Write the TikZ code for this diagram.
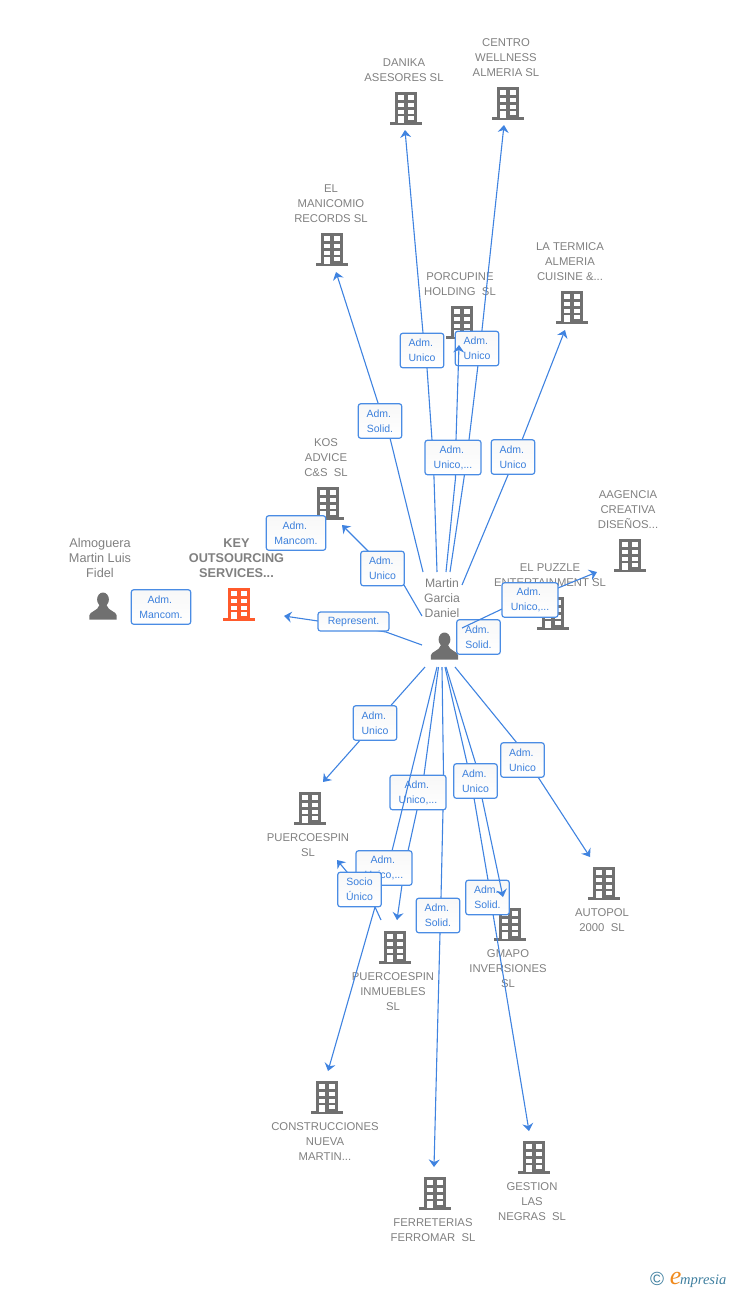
\documentclass[tikz,border=0pt]{standalone}
\usepackage{fontspec}
\setmainfont{Liberation Sans}
\newfontfamily\logofont{Liberation Serif}
\usetikzlibrary{arrows.meta}
\definecolor{linkblue}{HTML}{3F83E0}
\definecolor{boxblue}{HTML}{4A8CE4}
\definecolor{labblue}{HTML}{3C80DC}
\definecolor{txtgray}{HTML}{808080}
\definecolor{icongray}{HTML}{707070}
\definecolor{keyred}{HTML}{FF5A2B}
\definecolor{logoteal}{HTML}{3F7F9F}
\definecolor{logoorange}{HTML}{F08A1D}
\newcommand{\admx}{Adm.\hphantom{i}}
\tikzset{
  x=1pt,y=-1pt,
  link/.style={draw=linkblue,line width=1.1pt,line join=round},
  arrowlink/.style={link,-{Stealth[length=7.5pt,width=11pt,inset=2.5pt]}},
  lab/.style={draw=boxblue,line width=1.2pt,rounded corners=2.5pt,top color=white!97!black,bottom color=white,
    text=labblue,font=\fontsize{10.5}{15}\selectfont,align=center,inner sep=0pt,minimum height=34.5pt},
  labS/.style={lab,minimum width=43.5pt},
  labM/.style={lab,minimum width=56pt},
  labL/.style={lab,minimum width=59.5pt},
  name text/.style={text=txtgray,font=\fontsize{11.3}{15}\selectfont,align=center,inner sep=0pt},
  person text/.style={text=txtgray,font=\fontsize{12.7}{15}\selectfont,align=center,inner sep=0pt},
  martin text/.style={text=txtgray,font=\fontsize{12.2}{15}\selectfont,align=center,inner sep=0pt},
  key text/.style={text=txtgray,font=\fontsize{12.7}{15}\selectfont\bfseries,align=center,inner sep=0pt},
  iconbox/.style={inner sep=0pt,minimum width=32pt,minimum height=33pt},
  bldg/.pic={
    \path[pic actions,draw=none] (-11,-16.5) rectangle (11,14.5);
    \path[pic actions,draw=none] (-16,14.2) rectangle (16,16.8);
    \foreach \yy/\hh in {-13.2/4.7,-5.2/4.4,1.8/4,7.5/7}{\fill[white] (-7.7,\yy) rectangle (-1.7,\yy+\hh);}
    \foreach \yy/\hh in {-13.2/4.7,-5.2/4.4,1.8/4,7.5/4.2}{\fill[white] (2,\yy) rectangle (8,\yy+\hh);}
  },
  person/.pic={
    \path[pic actions,draw=none] (0,-6.5) ellipse [x radius=5.9,y radius=7];
    \path[pic actions,draw=none] (-13.7,13.5) -- (-13.7,9.5) .. controls (-13.7,5.5) and (-5,5) .. (-3.5,-1) -- (3.5,-1) .. controls (5,5) and (13.7,5.5) .. (13.7,9.5) -- (13.7,13.5) -- cycle;
  }
}
\begin{document}
\begin{tikzpicture}
\useasboundingbox (0,0) rectangle (728,1290);

% icons
\foreach \nm/\px/\py in {danika/406/108,centro/508/103,manicomio/332/249,porcupine/462/322,termica/572/307,kos/328/503,aagencia/630/555,puzzle/552.5/613,puercoespin/310/808,autopol/604/883,inmuebles/395/947,gmapo/510/924,construcciones/327/1097,ferreterias/435/1193,gestion/534/1157}{
  \node[iconbox] (\nm) at (\px,\py) {};
  \pic[fill=icongray] at (\nm) {bldg};
}
\node[iconbox] (key) at (238.5,604) {};
\pic[fill=keyred] at (key) {bldg};
\node[iconbox,minimum width=28pt,minimum height=27pt] (almoguera) at (103,606) {};
\pic[fill=icongray] at (almoguera) {person};
\node[iconbox,minimum width=28pt,minimum height=27pt] (martin) at (444.5,646) {};
\pic[fill=icongray] at (martin) {person};

% names
\node[name text] (t1) at (404,70.5) {DANIKA\\ASESORES SL};
\node[name text] (t2) at (506,58) {CENTRO\\WELLNESS\\ALMERIA SL};
\node[name text] (t3) at (331,204) {EL\\MANICOMIO\\RECORDS SL};
\node[name text] (t4) at (460,284.5) {PORCUPINE\\HOLDING\ \ SL};
\node[name text] (t5) at (570,262) {LA TERMICA\\ALMERIA\\CUISINE \&...};
\node[name text] (t6) at (326,458) {KOS\\ADVICE\\C\&S\ \ SL};
\node[name text] (t7) at (628,510) {AAGENCIA\\CREATIVA\\DISEÑOS...};
\node[name text] (t8) at (550,575.5) {EL PUZZLE\\ENTERTAINMENT SL};
\node[key text] (t9) at (236.5,558) {KEY\\OUTSOURCING\\SERVICES...};
\node[person text] (t10) at (100,558) {Almoguera\\Martin Luis\\Fidel};
\node[martin text] (t11) at (442,598) {Martin\\Garcia\\Daniel};
\node[name text] (t12) at (308,845.5) {PUERCOESPIN\\SL};
\node[name text] (t13) at (602,920.5) {AUTOPOL\\2000\ \ SL};
\node[name text] (t14) at (393,992) {PUERCOESPIN\\INMUEBLES\\SL};
\node[name text] (t15) at (508,969) {GMAPO\\INVERSIONES\\SL};
\node[name text] (t16) at (325,1142) {CONSTRUCCIONES\\NUEVA\\MARTIN...};
\node[name text] (t17) at (433,1230.5) {FERRETERIAS\\FERROMAR\ \ SL};
\node[name text] (t18) at (532,1202) {GESTION\\LAS\\NEGRAS\ \ SL};

% connector ends
\foreach \nm/\px/\py in {
  s-man/423/572,e-man/336/272,s-dan/437/572,e-dan/405/130,s-cen/450/572,e-cen/504/125,
  s-ter/462/585,e-ter/565/330,s-por/446/572,e-por/459/345,s-kos/422/616,e-kos/342/525,
  s-rep/422/645,e-rep/284/616,s-aag/462/628,e-aag/597/572,s-pue/425/667,e-pue/323/782,
  s-aut/455/667,e-aut/590/857,s-ges/445/667,e-ges/529/1131,s-gma/446/667,e-gma/503/897,
  s-fer/442/667,e-fer/434/1167,s-inm/438.5/667,e-inm/397/920,s-con/437/667,e-con/328/1071,
  s-soc/381/920,e-soc/337/860}{\coordinate (\nm) at (\px,\py);}

% connectors and their labels, in stacking order
\node[labL] (l0) at (161,607) {\admx\\Mancom.};

\draw[arrowlink] (s-man) -- (390,438) -- (378,403) -- (e-man);
\node[labS] (l1) at (380,421) {\admx\\Solid.};

\draw[arrowlink] (s-dan) -- (434,478) -- (432,440) -- (427,368) -- (423,333) -- (e-dan);
\node[labS] (l2) at (422,350.5) {\admx\\Unico};

\draw[arrowlink] (s-cen) -- (464,478) -- (469,440) -- (478,365) -- (482,330) -- (e-cen);
\node[labS] (l3) at (477,348.5) {\admx\\Unico};

\draw[arrowlink] (s-por) -- (455.5,478) -- (456,440) -- (e-por);
\node[labM] (l4) at (453,457.5) {\admx\\Unico,...};

\draw[arrowlink] (s-ter) -- (508,475) -- (522,440) -- (e-ter);
\node[labS] (l5) at (513,457) {\admx\\Unico};

\node[labL] (l6) at (296,533) {\admx\\Mancom.};
\draw[arrowlink] (s-kos) -- (404,585) -- (368,551) -- (e-kos);
\node[labS] (l7) at (382.5,568.5) {\admx\\Unico};

\draw[arrowlink] (s-rep) -- (386,632) -- (318,621) -- (e-rep);
\node[lab,minimum width=71pt,minimum height=19pt] (l8) at (353.5,621.5) {Represent.};

\node[labS] (l9) at (478.5,637) {\admx\\Solid.};
\draw[arrowlink] (s-aag) -- (502,609) -- (558,588) -- (e-aag);
\node[labM] (l10) at (530,600) {\admx\\Unico,...};

\draw[arrowlink] (s-pue) -- (e-pue);
\node[labS] (l11) at (375,723) {\admx\\Unico};

\draw[arrowlink] (s-aut) -- (517,743) -- (538,777) -- (e-aut);
\node[labS] (l12) at (522.5,760) {\admx\\Unico};

\draw[arrowlink] (s-ges) -- (467,763) -- (474,798) -- (488,880) -- (493,914) -- (e-ges);
\node[labS] (l13) at (487.5,897.5) {\admx\\Solid.};
\draw[arrowlink] (s-gma) -- (475.5,763) -- (482,798) -- (e-gma);
\node[labS] (l14) at (475.5,781) {\admx\\Unico};

\draw[arrowlink] (s-fer) -- (443.5,775) -- (443,810) -- (441,898) -- (440,933) -- (e-fer);
\node[labS] (l15) at (438,915.5) {\admx\\Solid.};
\draw[arrowlink] (s-inm) -- (424,775) -- (417,810) -- (408,851) -- (402,885) -- (e-inm);
\node[labM] (l16) at (418,792.5) {\admx\\Unico,...};
\draw[arrowlink] (s-con) -- (392,851) -- (375,907) -- (e-con);
\node[labM] (l17) at (384,868) {\admx\\Unico,...};
\draw[arrowlink] (s-soc) -- (375,907) -- (347,872) -- (e-soc);
\node[labS] (l18) at (359.5,889.5) {Socio\\Único};

% logo
\node[text=logoteal,font=\fontsize{19}{19}\selectfont,inner sep=0pt] (logoc) at (657,1279) {©};
\node[text=logoteal,font=\logofont\itshape\fontsize{14.5}{15}\selectfont,inner sep=0pt,anchor=base west] (logot) at (680,1284) {mpresia};
\node[text=logoorange,font=\logofont\itshape\fontsize{26}{26}\selectfont,inner sep=0pt,anchor=base east] (logoe) at (681.5,1284) {e};
\end{tikzpicture}
\end{document}
